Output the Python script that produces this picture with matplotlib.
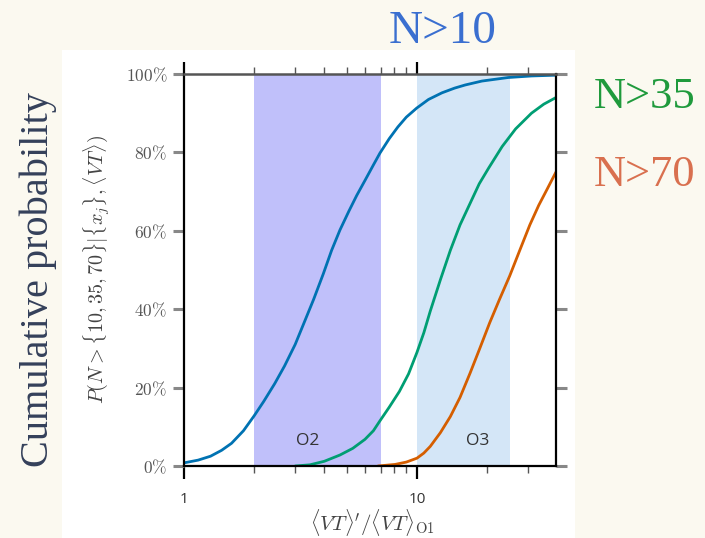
import matplotlib
matplotlib.use("Agg")
import matplotlib.pyplot as plt
from matplotlib.patches import Rectangle
from matplotlib.ticker import FixedLocator, NullFormatter

plt.rcParams['mathtext.fontset'] = 'cm'

# ---- data ----
blue_x = [1.0, 1.15, 1.3, 1.45, 1.6, 1.8, 2.0, 2.2, 2.45, 2.7, 3.0, 3.3, 3.6, 3.96,
          4.3, 4.67, 5.1, 5.51, 6.0, 6.5, 6.93, 7.6, 8.28, 9.0, 9.97, 11.2, 12.8,
          14.5, 16.1, 19.0, 24.6, 31.0, 39.5]
blue_y = [0.8, 1.5, 2.5, 4.0, 5.8, 9.0, 12.8, 16.5, 21.0, 25.5, 31.0, 37.0, 42.5, 49.0,
          55.0, 60.2, 65.0, 69.0, 73.0, 76.8, 79.8, 83.5, 86.5, 89.0, 91.3, 93.5, 95.2,
          96.4, 97.2, 98.2, 99.1, 99.5, 99.7]

green_x = [3.0, 3.47, 4.0, 4.67, 5.3, 5.98, 6.5, 6.93, 7.6, 8.4, 9.2, 10.0, 10.7,
           11.4, 12.6, 13.9, 15.3, 16.9, 18.5, 20.3, 23.2, 26.5, 31.0, 35.0, 39.5]
green_y = [0.0, 0.3, 1.2, 2.8, 4.5, 6.8, 9.0, 11.5, 15.0, 19.0, 23.5, 29.0, 34.0,
           39.5, 47.5, 55.0, 61.5, 67.0, 72.0, 76.0, 81.5, 86.0, 90.0, 92.3, 94.0]

orange_x = [6.8, 8.05, 9.0, 10.0, 10.7, 11.4, 12.6, 13.9, 15.3, 16.9, 18.6, 20.5,
            22.6, 25.0, 27.6, 30.5, 33.3, 36.1, 39.5]
orange_y = [0.0, 0.4, 1.0, 2.0, 3.3, 5.0, 8.5, 12.6, 17.5, 23.7, 30.0, 36.5,
            42.5, 48.5, 55.0, 61.5, 66.5, 70.5, 75.0]

o2_range = (2.0, 7.0)
o3_range = (10.0, 25.0)
ytick_vals = [0, 20, 40, 60, 80, 100]
ytick_labels = [r'$0\%$', r'$20\%$', r'$40\%$', r'$60\%$', r'$80\%$', r'$100\%$']
xtick_vals = [1, 10]
xtick_labels = ['1', '10']

W, H = 705, 538
fig = plt.figure(figsize=(W / 100, H / 100), dpi=100)
fig.patch.set_facecolor('#fbf9f0')

# white panel behind the plot image
fig.patches.append(Rectangle((62 / W, 0), (575 - 62) / W, (538 - 50) / H,
                             transform=fig.transFigure, facecolor='white',
                             edgecolor='none', zorder=-5))

ax = fig.add_axes([184 / W, 72 / H, (556 - 184) / W, (466 - 74) / H])
ax.set_zorder(2)
ax.set_facecolor('white')
ax.set_xscale('log')
ax.set_xlim(1, 39.5)
ax.set_ylim(0, 100)

ax.axvspan(*o2_range, color='#c0c0fa', lw=0, zorder=1)
ax.axvspan(*o3_range, color='#d4e6f7', lw=0, zorder=1)

ax.plot(blue_x, blue_y, color='#0072b2', lw=2.0, zorder=3, solid_capstyle='round')
ax.plot(green_x, green_y, color='#009e73', lw=2.0, zorder=3, solid_capstyle='round')
ax.plot(orange_x, orange_y, color='#d55e00', lw=2.0, zorder=3, solid_capstyle='round')

ax.text(3.41, 6.4, 'O2', fontsize=12.5, color='#333333', ha='center', va='center',
        family='Open Sans', zorder=4)
ax.text(18.3, 6.4, 'O3', fontsize=12.5, color='#333333', ha='center', va='center',
        family='Open Sans', zorder=4)

# spines
for s in ['left', 'right', 'bottom']:
    ax.spines[s].set_color('black')
    ax.spines[s].set_linewidth(1.6)
ax.spines['top'].set_color('#555555')
ax.spines['top'].set_linewidth(1.8)
for s in ax.spines.values():
    s.set_zorder(5)

# ticks
ax.yaxis.set_major_locator(FixedLocator(ytick_vals))
ax.set_yticklabels(ytick_labels)
ax.tick_params(axis='y', which='major', direction='out', length=8, width=2.2,
               color='#888888', left=True, right=True, labelsize=12.5,
               labelcolor='#555555', pad=4)
ax.xaxis.set_major_locator(FixedLocator(xtick_vals))
ax.set_xticklabels(xtick_labels, family='Open Sans')
ax.xaxis.set_minor_locator(FixedLocator([2, 3, 4, 5, 6, 7, 8, 9, 20, 30]))
ax.xaxis.set_minor_formatter(NullFormatter())
ax.tick_params(axis='x', which='major', direction='out', length=9, width=1.6,
               color='black', top=True, bottom=True, labelsize=11,
               labelcolor='#333333', pad=10)
ax.tick_params(axis='x', which='minor', direction='out', length=5, width=1.0,
               color='#555555', top=True, bottom=True)

ax.set_ylabel(r'$P(N>\{10,35,70\}|\{x_j\},\langle VT\rangle)$', fontsize=14.5,
              color='#444444', labelpad=10)

# x-axis title placed below the tick labels
fig.text(372 / W, 1 - 523 / H, r"$\langle VT\rangle'/\langle VT\rangle_{\rm O1}$",
         fontsize=15, color='#444444', ha='center', va='center')

# slide annotations
fig.text(443 / W, 1 - 32 / H, 'N>10', fontsize=34, color='#3a6fd0',
         family='Liberation Serif', ha='center', va='center')
fig.text(645 / W, 1 - 97 / H, 'N>35', fontsize=32, color='#1f9a3c',
         family='Liberation Serif', ha='center', va='center')
fig.text(645 / W, 1 - 175 / H, 'N>70', fontsize=32, color='#d9704f',
         family='Liberation Serif', ha='center', va='center')
fig.text(38 / W, 1 - 280 / H, 'Cumulative probability', fontsize=29,
         color='#34405a', family='Liberation Serif', rotation=90,
         ha='center', va='center')

fig.savefig('out.png', dpi=100, facecolor=fig.get_facecolor())
